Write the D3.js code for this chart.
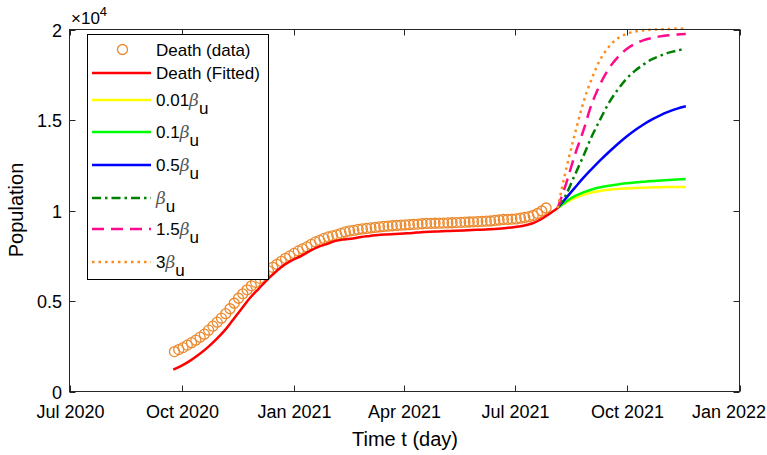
<!doctype html><html><head><meta charset="utf-8"></head><body style="margin:0;background:#fff">
<script src="https://d3js.org/d3.v7.min.js"></script>
<style>
  svg text { font-family: "Liberation Sans", Arial, sans-serif; fill: #000; }
  .axis text { font-size: 18px; }
</style>
<script>
  // tick labels
  var xTickDates = ["2020-07-01", "2020-10-01", "2021-01-01", "2021-04-01", "2021-07-01", "2021-10-01", "2022-01-01"];
  var xTickLabels = ["Jul 2020", "Oct 2020", "Jan 2021", "Apr 2021", "Jul 2021", "Oct 2021", "Jan 2022"];
  var yTickValues = [0, 5000, 10000, 15000, 20000];
  var yTickLabels = ["0", "0.5", "1", "1.5", "2"];

  // death data (circles), one every 3.5 days from 25 Sep 2020
  var dataStart = "2020-09-25";
  var dataStepHours = 84;
  var deathData = [2204, 2314, 2424, 2562, 2700, 2837, 3003, 3168, 3388, 3609, 3829, 4050, 4297, 4573, 4876, 5152,
    5399, 5620, 5840, 6033, 6253, 6474, 6667, 6860, 7025, 7190, 7356, 7493, 7631, 7769, 7879, 7989, 8127, 8264,
    8347, 8457, 8540, 8595, 8650, 8733, 8815, 8870, 8898, 8953, 8981, 9008, 9036, 9063, 9091, 9119, 9135, 9157,
    9173, 9190, 9201, 9218, 9234, 9251, 9267, 9284, 9289, 9295, 9300, 9306, 9311, 9322, 9333, 9344, 9355, 9366,
    9377, 9388, 9399, 9410, 9421, 9449, 9476, 9504, 9515, 9526, 9537, 9576, 9614, 9658, 9725, 9835, 9972, 10138];

  // fitted curve, weekly from 24 Sep 2020
  var fitStart = "2020-09-24";
  var deathFitted = [1212, 1432, 1708, 2039, 2424, 2865, 3361, 3967, 4573, 5179, 5675, 6171, 6612, 6997, 7273, 7493,
    7769, 7989, 8154, 8320, 8402, 8457, 8540, 8595, 8650, 8678, 8705, 8733, 8760, 8800, 8826, 8843, 8866, 8881,
    8898, 8920, 8942, 8964, 8992, 9036, 9091, 9160, 9280, 9504, 9807, 10138];

  // scenarios, weekly from 5 Aug 2021
  var scenStart = "2021-08-05";
  var beta001 = [10138, 10450, 10680, 10860, 10990, 11080, 11140, 11185, 11215, 11240, 11260, 11275, 11285, 11295, 11300, 11305];
  var beta01 = [10138, 10500, 10790, 11000, 11160, 11280, 11370, 11440, 11500, 11550, 11590, 11630, 11660, 11690, 11715, 11740];
  var beta05 = [10138, 10700, 11250, 11800, 12300, 12780, 13230, 13660, 14060, 14420, 14740, 15020, 15260, 15460, 15630, 15760];
  var beta1 = [10138, 10900, 11950, 13000, 14100, 15050, 15950, 16650, 17250, 17700, 18050, 18350, 18550, 18720, 18840, 18930];
  var beta15 = [10138, 11500, 13050, 14400, 15900, 17000, 17850, 18450, 18900, 19200, 19400, 19530, 19620, 19680, 19720, 19750];
  var beta3 = [10138, 12300, 14200, 15950, 17300, 18350, 19050, 19500, 19750, 19880, 19950, 19990, 20010, 20030, 20040, 20050];

  var parseDate = d3.timeParse("%Y-%m-%d");
  var W = 767, H = 455;
  var pLeft = 69.5, pRight = 739.5, pTop = 29.5, pBottom = 391.5;

  var x = d3.scaleTime().domain([parseDate("2020-07-01"), parseDate("2022-01-01")]).range([pLeft, pRight]);
  var y = d3.scaleLinear().domain([0, 20000]).range([pBottom, pTop]);

  var svg = d3.select("body").append("svg").attr("width", W).attr("height", H);

  function series(start, stepFn, vals) {
    var s = parseDate(start);
    return vals.map(function(v, i) { return { d: stepFn(s, i), v: v }; });
  }
  var weekly = function(s, i) { return d3.timeDay.offset(s, 7 * i); };

  var dataPts = series(dataStart, function(s, i) { return d3.timeHour.offset(s, dataStepHours * i); }, deathData);
  var fitPts = series(fitStart, weekly, deathFitted);

  var line = d3.line().x(function(p) { return x(p.d); }).y(function(p) { return y(p.v); })
    .curve(d3.curveCatmullRom.alpha(0.5));

  // circles
  svg.append("g").selectAll("circle").data(dataPts).enter().append("circle")
    .attr("cx", function(p) { return x(p.d); })
    .attr("cy", function(p) { return y(p.v); })
    .attr("r", 5)
    .attr("fill", "none")
    .attr("stroke", "#EB8A2E")
    .attr("stroke-width", 1.3);

  svg.append("path").datum(fitPts).attr("d", line)
    .attr("fill", "none").attr("stroke", "#FF0000").attr("stroke-width", 2.5);

  var scen = [
    { vals: beta001, color: "#FFFF00", dash: null },
    { vals: beta01, color: "#00FF00", dash: null },
    { vals: beta05, color: "#0000FF", dash: null },
    { vals: beta1, color: "#008000", dash: "9,4,2.5,4" },
    { vals: beta15, color: "#FF0A8C", dash: "12,7" },
    { vals: beta3, color: "#FF8C1A", dash: "2.5,4" }
  ];
  scen.forEach(function(s) {
    svg.append("path").datum(series(scenStart, weekly, s.vals)).attr("d", line)
      .attr("fill", "none").attr("stroke", s.color).attr("stroke-width", 2.5)
      .attr("stroke-dasharray", s.dash);
  });

  // axes box
  var axisColor = "#262626";
  var ax = svg.append("g").attr("class", "axis");
  ax.append("rect").attr("x", pLeft).attr("y", pTop).attr("width", pRight - pLeft).attr("height", pBottom - pTop)
    .attr("fill", "none").attr("stroke", axisColor).attr("stroke-width", 1);

  xTickDates.forEach(function(t, i) {
    var xx = Math.round(x(parseDate(t))) + 0.5;
    ax.append("line").attr("x1", xx).attr("x2", xx).attr("y1", pBottom).attr("y2", pBottom - 6).attr("stroke", axisColor);
    ax.append("line").attr("x1", xx).attr("x2", xx).attr("y1", pTop).attr("y2", pTop + 6).attr("stroke", axisColor);
    var last = i === xTickDates.length - 1;
    ax.append("text").attr("x", last ? 766 : xx).attr("y", 418)
      .attr("text-anchor", last ? "end" : "middle").text(xTickLabels[i]);
  });
  yTickValues.forEach(function(t, i) {
    var yy = Math.round(y(t)) + 0.5;
    ax.append("line").attr("x1", pLeft).attr("x2", pLeft + 6).attr("y1", yy).attr("y2", yy).attr("stroke", axisColor);
    ax.append("line").attr("x1", pRight).attr("x2", pRight - 6).attr("y1", yy).attr("y2", yy).attr("stroke", axisColor);
    ax.append("text").attr("x", 62).attr("y", yy + 6.5).attr("text-anchor", "end").text(yTickLabels[i]);
  });

  // exponent label
  var ex = svg.append("text").attr("x", 71).attr("y", 24).style("font-size", "17px");
  ex.append("tspan").text("\u00d710");
  ex.append("tspan").attr("dy", -8).style("font-size", "13px").text("4");

  svg.append("text").attr("x", 405).attr("y", 446).attr("text-anchor", "middle").style("font-size", "20px").text("Time t (day)");
  svg.append("text").attr("transform", "translate(23,210) rotate(-90)").attr("text-anchor", "middle")
    .style("font-size", "20px").text("Population");

  // legend
  var lg = svg.append("g");
  lg.append("rect").attr("x", 87.5).attr("y", 34.5).attr("width", 181).attr("height", 245)
    .attr("fill", "#fff").attr("stroke", "#000").attr("stroke-width", 1);
  var rows = [
    { y: 49.5, type: "circle", color: "#EB8A2E", main: "Death (data)" },
    { y: 73, color: "#FF0000", dash: null, main: "Death (Fitted)" },
    { y: 100, color: "#FFFF00", dash: null, main: "0.01", beta: true },
    { y: 132, color: "#00FF00", dash: null, main: "0.1", beta: true },
    { y: 165, color: "#0000FF", dash: null, main: "0.5", beta: true },
    { y: 198, color: "#008000", dash: "9,4,2.5,4", main: "", beta: true },
    { y: 229, color: "#FF0A8C", dash: "12,7", main: "1.5", beta: true },
    { y: 262, color: "#FF8C1A", dash: "2.5,4", main: "3", beta: true }
  ];
  rows.forEach(function(r) {
    if (r.type === "circle") {
      lg.append("circle").attr("cx", 122.5).attr("cy", r.y).attr("r", 5)
        .attr("fill", "none").attr("stroke", r.color).attr("stroke-width", 1.3);
    } else {
      lg.append("line").attr("x1", 92).attr("x2", 151).attr("y1", r.y).attr("y2", r.y)
        .attr("stroke", r.color).attr("stroke-width", 2.5).attr("stroke-dasharray", r.dash);
    }
    var t = lg.append("text").attr("x", 156).attr("y", r.y + 6).style("font-size", "17px");
    t.append("tspan").text(r.main);
    if (r.beta) {
      t.append("tspan").style("font-family", "'DejaVu Serif', serif").style("font-style", "italic")
        .style("fill", "#555").text("\u03b2");
      t.append("tspan").attr("dy", 8).text("u");
    }
  });
</script></body></html>
